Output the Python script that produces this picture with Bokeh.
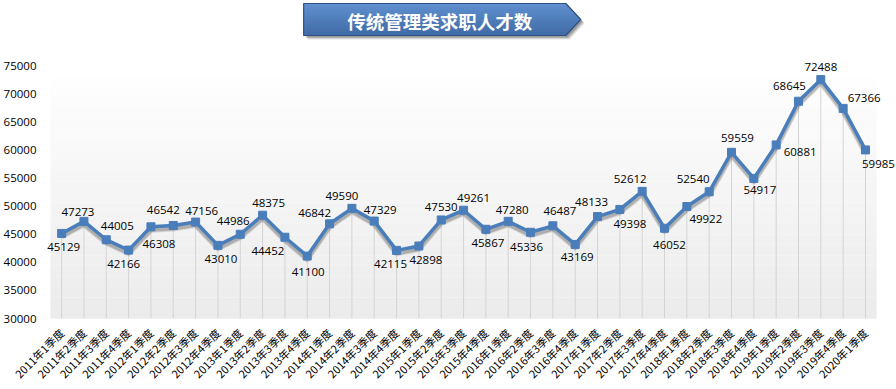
import math
from bokeh.plotting import figure
from bokeh.models import (ColumnDataSource, Range1d, FixedTicker,
                          NumeralTickFormatter, BoxAnnotation, LabelSet)
from bokeh.core.properties import value
from bokeh.embed import file_html
from bokeh.resources import INLINE

# ---------------- data ----------------
title_text = "传统管理类求职人才数"
quarters = [
    "2011年1季度", "2011年2季度", "2011年3季度", "2011年4季度",
    "2012年1季度", "2012年2季度", "2012年3季度", "2012年4季度",
    "2013年1季度", "2013年2季度", "2013年3季度", "2013年4季度",
    "2014年1季度", "2014年2季度", "2014年3季度", "2014年4季度",
    "2015年1季度", "2015年2季度", "2015年3季度", "2015年4季度",
    "2016年1季度", "2016年2季度", "2016年3季度", "2016年4季度",
    "2017年1季度", "2017年2季度", "2017年3季度", "2017年4季度",
    "2018年1季度", "2018年2季度", "2018年3季度", "2018年4季度",
    "2019年1季度", "2019年2季度", "2019年3季度", "2019年4季度",
    "2020年1季度",
]
talents = [
    45129, 47273, 44005, 42166,
    46308, 46542, 47156, 43010,
    44986, 48375, 44452, 41100,
    46842, 49590, 47329, 42115,
    42898, 47530, 49261, 45867,
    47280, 45336, 46487, 43169,
    48133, 49398, 52612, 46052,
    49922, 52540, 59559, 54917,
    60881, 68645, 72488, 67366,
    59985,
]
y_start, y_end, y_step = 30000, 75000, 5000
y_ticks = list(range(y_start, y_end + 1, y_step))

# label placement (style): pixel offsets of each value label from its point (down = positive)
label_dx = [2, -6, 11, -5, 8, -10, 6, 3, -7, 6, -17, 1, -15, -10, 6, -6, 7, 0, 10, 2,
            4, -4, 7, 2, -6, 10, -12, 5, 19, -16, 6, 6, 24, -9, 0, 21, 13]
label_dy = [14, -9, -14, 14, 17, -15, -11, 14, -13, -12, 14, 16, -11, -12, -11, 14, 14, -13, -12, 14,
            -11, 15, -15, 13, -15, 15, -12, 17, 13, -13, -14, 12, 7, -15, -13, -10, 14]

BLUE = "#4a7ebb"
W, H = 896, 389

# ---------------- layout geometry (pixels) ----------------
FRAME_LEFT = 38          # frame starts here (leaves room for left labels)
PLOT_LEFT, PLOT_RIGHT = 44, 876   # visible plot area
PLOT_TOP, PLOT_BOTTOM = 65, 318
BOTTOM_BORDER = H - PLOT_BOTTOM
n_cat = len(quarters)
px_per_cat = (PLOT_RIGHT - PLOT_LEFT) / n_cat
val_per_px = (y_end - y_start) / (PLOT_BOTTOM - PLOT_TOP)
x_lo = -(PLOT_LEFT - FRAME_LEFT) / px_per_cat
x_hi = n_cat + (W - PLOT_RIGHT) / px_per_cat
y_hi = y_end + PLOT_TOP * val_per_px

xpos = [i + 0.5 for i in range(n_cat)]


def dx_(px):
    return x_lo + (px - FRAME_LEFT) / px_per_cat


def dy_(py):
    return y_hi - py * val_per_px


p = figure(width=W, height=H, x_range=Range1d(x_lo, x_hi), y_range=Range1d(y_start, y_hi),
           output_backend="svg", toolbar_location=None,
           min_border_left=FRAME_LEFT, min_border_right=0,
           min_border_top=0, min_border_bottom=BOTTOM_BORDER)
p.outline_line_color = None
p.background_fill_color = "white"
p.border_fill_color = "white"
p.grid.visible = False

# ---------------- title banner ----------------
bx0, bx1, btip, by0, by1 = 299, 563, 578, 3, 35
bym = (by0 + by1) / 2


def right_edge(yv):
    return bx1 + (btip - bx1) * (1 - abs(yv - bym) / (bym - by0))


def pent(ox=0, oy=0):
    xs = [bx0, bx1, btip, bx1, bx0]
    ys = [by0, by0, bym, by1, by1]
    return [dx_(v + ox) for v in xs], [dy_(v + oy) for v in ys]


for k, a in [(4, 0.10), (3, 0.15), (2, 0.2)]:
    sx, sy = pent(k, k)
    p.patch(sx, sy, fill_color="black", fill_alpha=a, line_color=None)

top_c = (0x5e, 0x8f, 0xd0)
bot_c = (0x3f, 0x6b, 0xa8)
nstrip = 16
for i in range(nstrip):
    y0 = by0 + (by1 - by0) * i / nstrip
    y1 = by0 + (by1 - by0) * (i + 1) / nstrip
    xs = [bx0, right_edge(y0)]
    ys = [y0, y0]
    if y0 < bym < y1:
        xs.append(btip)
        ys.append(bym)
    xs += [right_edge(y1), bx0]
    ys += [y1, y1]
    t = i / (nstrip - 1)
    c = "#%02x%02x%02x" % tuple(int(top_c[j] + (bot_c[j] - top_c[j]) * t) for j in range(3))
    p.patch([dx_(v) for v in xs], [dy_(v) for v in ys], fill_color=c, line_color=c, line_width=0.5)

ox, oy = pent()
p.patch(ox, oy, fill_color=None, line_color="#2f5283", line_width=1.2)
p.text(x=[dx_(436)], y=[dy_(bym + 1)], text=[title_text], text_color="white",
       text_font=value("Noto Sans CJK SC"), text_font_size="18.5px", text_font_style="bold",
       text_align="center", text_baseline="middle")

# ---------------- plot-area background (vertical gradient) ----------------
nb = 24
c_top = (0xff, 0xff, 0xff)
c_bot = (0xec, 0xec, 0xec)
for i in range(nb):
    b0 = y_start + (y_end - y_start) * i / nb
    b1 = y_start + (y_end - y_start) * (i + 1) / nb
    t = i / (nb - 1)
    c = "#%02x%02x%02x" % tuple(int(c_bot[j] + (c_top[j] - c_bot[j]) * t) for j in range(3))
    p.add_layout(BoxAnnotation(bottom=b0, top=b1, left=0, right=n_cat, fill_color=c,
                               fill_alpha=1, line_color=None, level="underlay"))
p.add_layout(BoxAnnotation(bottom=y_start, top=y_start, left=0, right=n_cat,
                           fill_alpha=0, line_color="#c8c8c8", line_width=1.2))

src = ColumnDataSource(dict(x=xpos, v=talents, base=[y_start] * n_cat,
                            lab=[str(v) for v in talents], dx=label_dx,
                            dy_up=[-d for d in label_dy]))

# drop lines
p.segment(x0="x", y0="base", x1="x", y1="v", source=src, line_color="#d4d4d4", line_width=1)

# line shadow (shifted copy via offset range)
for k, a, w in [(3, 0.12, 6), (3, 0.18, 4)]:
    d = k * val_per_px
    name = f"sh{k}{w}"
    p.extra_y_ranges[name] = Range1d(y_start + d, y_hi + d)
    p.line(x="x", y="v", source=src, line_color="black", line_alpha=a, line_width=w,
           y_range_name=name, line_join="round")

p.line(x="x", y="v", source=src, line_color=BLUE, line_width=3.5, line_join="round")
p.scatter(x="x", y="v", source=src, marker="square", size=8, fill_color=BLUE, line_color=BLUE)

p.add_layout(LabelSet(x="x", y="v", text="lab", x_offset="dx", y_offset="dy_up", source=src,
                      text_align="center", text_baseline="middle", text_color="black",
                      text_font=value("Open Sans"), text_font_size="11.5px"))

# ---------------- axes ----------------
p.yaxis.ticker = FixedTicker(ticks=y_ticks)
p.yaxis.formatter = NumeralTickFormatter(format="0")
p.yaxis.axis_line_color = None
p.yaxis.major_tick_line_color = None
p.yaxis.minor_tick_line_color = None
p.yaxis.major_label_standoff = 2
p.yaxis.major_label_text_font = "Open Sans"
p.yaxis.major_label_text_font_size = "11.5px"
p.yaxis.major_label_text_color = "black"

p.xaxis.ticker = FixedTicker(ticks=xpos)
p.xaxis.major_label_overrides = {x: q for x, q in zip(xpos, quarters)}
p.xaxis.axis_line_color = None
p.xaxis.major_tick_line_color = None
p.xaxis.minor_tick_line_color = None
p.xaxis.major_label_orientation = math.pi / 4
p.xaxis.major_label_standoff = 6
p.xaxis.major_label_text_font = "Noto Sans CJK SC"
p.xaxis.major_label_text_font_size = "11px"
p.xaxis.major_label_text_color = "black"

open("out.html", "w").write(file_html(p, INLINE))
